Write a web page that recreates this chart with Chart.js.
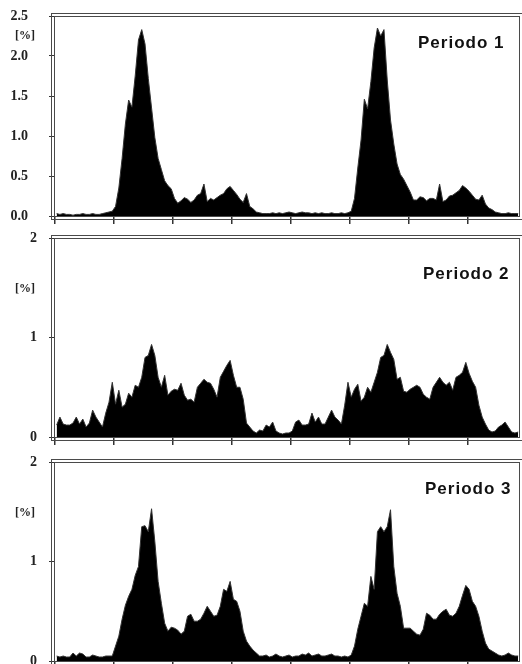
<!DOCTYPE html>
<html>
<head>
<meta charset="utf-8">
<script src="https://cdn.jsdelivr.net/npm/chart.js@4.4.1/dist/chart.umd.min.js"></script>
<style>
  body { margin: 0; background: #fff; }
  #wrap { position: relative; width: 522px; height: 664px; overflow: hidden; }
  canvas { position: absolute; left: 0; }
</style>
</head>
<body>
<div id="wrap">
  <canvas id="p1" width="522" height="230" style="top:0px"></canvas>
  <canvas id="p2" width="522" height="222" style="top:228px"></canvas>
  <canvas id="p3" width="522" height="214" style="top:450px"></canvas>
</div>
<script>
// 20-minute bins over ~47 hours, share of the total in %
const binHours = 1 / 3;
const hourMax = 47.25;
const hourStep = 6;

const periodLabels = ["Periodo 1", "Periodo 2", "Periodo 3"];

const periodo1 = [
  0.03,0.02,0.03,0.02,0.02,0.01,0.02,0.02,0.03,0.02,
  0.02,0.03,0.02,0.02,0.03,0.04,0.05,0.06,0.12,0.35,
  0.72,1.15,1.45,1.36,1.75,2.2,2.33,2.15,1.72,1.35,
  0.98,0.72,0.58,0.44,0.38,0.34,0.22,0.16,0.19,0.23,
  0.21,0.17,0.2,0.26,0.28,0.4,0.18,0.22,0.2,0.23,
  0.26,0.28,0.34,0.37,0.32,0.27,0.21,0.17,0.28,0.12,
  0.09,0.05,0.04,0.03,0.03,0.03,0.04,0.03,0.04,0.03,
  0.04,0.05,0.04,0.03,0.04,0.05,0.04,0.04,0.03,0.04,
  0.03,0.04,0.03,0.03,0.04,0.03,0.03,0.04,0.03,0.04,
  0.06,0.22,0.6,0.95,1.46,1.34,1.68,2.1,2.35,2.25,
  2.33,1.7,1.2,0.9,0.65,0.52,0.46,0.38,0.3,0.2,
  0.2,0.24,0.23,0.19,0.22,0.22,0.2,0.4,0.18,0.2,
  0.25,0.26,0.29,0.32,0.38,0.35,0.31,0.26,0.21,0.2,
  0.26,0.15,0.1,0.08,0.05,0.04,0.03,0.03,0.04,0.03,
  0.03,0.03
];

const periodo2 = [
  0.12,0.2,0.13,0.12,0.12,0.14,0.2,0.13,0.18,0.1,
  0.14,0.27,0.2,0.15,0.1,0.24,0.35,0.55,0.33,0.47,
  0.3,0.33,0.44,0.4,0.52,0.5,0.6,0.8,0.82,0.93,
  0.82,0.6,0.5,0.62,0.42,0.46,0.48,0.47,0.54,0.42,
  0.37,0.38,0.35,0.5,0.54,0.58,0.55,0.54,0.48,0.4,
  0.6,0.66,0.72,0.77,0.62,0.5,0.5,0.38,0.14,0.1,
  0.06,0.04,0.07,0.06,0.12,0.1,0.15,0.06,0.04,0.03,
  0.04,0.04,0.06,0.15,0.17,0.12,0.12,0.13,0.24,0.15,
  0.2,0.13,0.13,0.2,0.27,0.2,0.17,0.13,0.32,0.55,
  0.4,0.48,0.53,0.36,0.4,0.5,0.45,0.55,0.65,0.8,
  0.82,0.93,0.85,0.78,0.58,0.6,0.46,0.45,0.48,0.5,
  0.52,0.5,0.43,0.4,0.38,0.5,0.55,0.6,0.55,0.52,
  0.55,0.47,0.6,0.62,0.65,0.75,0.64,0.56,0.5,0.32,
  0.2,0.13,0.07,0.05,0.06,0.1,0.12,0.15,0.1,0.05,
  0.04,0.05
];

const periodo3 = [
  0.05,0.04,0.05,0.04,0.04,0.08,0.05,0.08,0.07,0.04,
  0.04,0.06,0.05,0.04,0.04,0.05,0.05,0.05,0.15,0.25,
  0.42,0.56,0.65,0.72,0.86,0.95,1.35,1.36,1.3,1.53,
  1.2,0.8,0.58,0.38,0.3,0.34,0.33,0.31,0.27,0.3,
  0.45,0.47,0.4,0.4,0.42,0.48,0.55,0.5,0.45,0.46,
  0.55,0.72,0.7,0.8,0.62,0.6,0.5,0.3,0.2,0.15,
  0.11,0.08,0.05,0.05,0.06,0.04,0.05,0.07,0.05,0.04,
  0.05,0.06,0.04,0.05,0.05,0.07,0.06,0.08,0.05,0.06,
  0.07,0.05,0.05,0.06,0.07,0.05,0.05,0.04,0.05,0.04,
  0.06,0.15,0.32,0.45,0.58,0.55,0.85,0.72,1.3,1.35,
  1.3,1.35,1.52,0.95,0.68,0.55,0.33,0.33,0.33,0.3,
  0.27,0.26,0.32,0.48,0.46,0.42,0.42,0.47,0.5,0.52,
  0.46,0.45,0.48,0.55,0.66,0.76,0.72,0.6,0.55,0.45,
  0.3,0.18,0.12,0.1,0.08,0.06,0.05,0.06,0.08,0.06,
  0.05,0.05
];

const yMax = [2.5, 2, 2];
const yStep = [0.5, 1, 1];

const serif = '"Liberation Serif", "Times New Roman", serif';

// double frame, "[%]" and the period label
const panelDecor = {
  id: "panelDecor",
  afterDatasetsDraw(chart, args, opts) {
    const { ctx, chartArea: a } = chart;
    ctx.save();
    ctx.strokeStyle = "#4a4a4a";
    ctx.lineWidth = 1;
    const l = Math.round(a.left) - 0.5, t = Math.round(a.top) + 0.5;
    const r = Math.round(a.right) + 0.5, b = Math.round(a.bottom) + 0.5;
    ctx.strokeRect(l, t, r - l, b - t);
    ctx.strokeRect(l - 3, t - 3, r - l + 6, b - t + 6);

    ctx.fillStyle = "#222";
    ctx.font = "bold 12px " + serif;
    ctx.textAlign = "center";
    ctx.textBaseline = "middle";
    ctx.fillText("[%]", 25, opts.unitY);

    ctx.fillStyle = "#111";
    ctx.font = 'bold 17px "Liberation Sans", Arial, sans-serif';
    ctx.letterSpacing = "1px";
    ctx.textAlign = "left";
    ctx.textBaseline = "alphabetic";
    ctx.fillText(opts.title, opts.titleX, opts.titleY);
    ctx.restore();
  }
};

function makePanel(id, values, idx, padTop, xHeight, unitY, titleX, titleY) {
  return new Chart(document.getElementById(id), {
    type: "line",
    data: {
      datasets: [{
        data: values.map((v, i) => ({ x: (i + 0.5) * binHours, y: v })),
        fill: "origin",
        backgroundColor: "#000",
        borderColor: "#333",
        borderWidth: 1,
        pointRadius: 0,
        tension: 0
      }]
    },
    options: {
      responsive: false,
      animation: false,
      layout: { padding: { top: padTop, right: 3, left: 0, bottom: 0 } },
      plugins: {
        legend: { display: false },
        tooltip: { enabled: false },
        panelDecor: { title: periodLabels[idx], unitY: unitY, titleX: titleX, titleY: titleY }
      },
      scales: {
        x: {
          type: "linear",
          min: 0,
          max: hourMax,
          ticks: { stepSize: hourStep, includeBounds: false, callback: () => "" },
          grid: { drawOnChartArea: false, tickLength: 8, color: "#333", lineWidth: 1.5 },
          border: { display: false },
          afterFit: (s) => { s.height = xHeight; }
        },
        y: {
          min: 0,
          max: yMax[idx],
          ticks: {
            stepSize: yStep[idx],
            padding: idx === 0 ? 21 : 12,
            color: "#222",
            font: { family: serif, weight: "bold", size: 14 },
            callback: (v) => idx === 0 ? v.toFixed(1) : v
          },
          grid: { drawOnChartArea: false, tickLength: 6, color: "#333" },
          border: { display: false },
          afterFit: (s) => { s.width = 55; s.paddingTop = 0; s.paddingBottom = 0; }
        }
      }
    },
    plugins: [panelDecor]
  });
}

makePanel("p1", periodo1, 0, 16, 14, 36, 418, 48);
makePanel("p2", periodo2, 1, 10, 13, 61, 423, 51);
makePanel("p3", periodo3, 2, 12, 3, 63, 425, 44);
</script>
</body>
</html>
